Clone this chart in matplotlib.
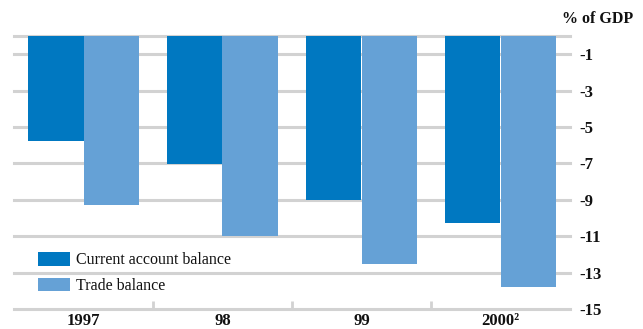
import matplotlib
matplotlib.use("Agg")
import matplotlib.pyplot as plt
import numpy as np

# Data: balances in % of GDP
years = ["1997", "98", "99", "2000²"]
current_account = [-5.75, -7.05, -9.0, -10.25]
trade_balance = [-9.3, -11.0, -12.5, -13.8]
y_ticks = [-1, -3, -5, -7, -9, -11, -13, -15]
grid_levels = [0] + y_ticks

ca_color = "#0078C1"
tb_color = "#65A1D6"
grid_color = "#D2D2D2"
text_color = "#111111"

plt.rcParams["font.family"] = ["Liberation Serif", "DejaVu Serif"]

fig = plt.figure(figsize=(6.43, 3.29), dpi=100)
ax = fig.add_axes([14 / 643, 1 - 309 / 329, 556 / 643, (309 - 36) / 329])

x = np.arange(len(years))
w = 0.4
ax.bar(x - w / 2, current_account, width=w, color=ca_color, zorder=3,
       label="Current account balance")
ax.bar(x + w / 2, trade_balance, width=w, color=tb_color, zorder=3,
       label="Trade balance")

for lvl in grid_levels:
    ax.axhline(lvl, color=grid_color, lw=2.2, zorder=1, clip_on=False)

# short separators between year groups on the baseline
for b in x[:-1] + 0.5:
    ax.plot([b, b], [-15, -14.55], color=grid_color, lw=2.0, zorder=1,
            solid_capstyle="butt", clip_on=False)

ax.set_xlim(-0.5, len(years) - 0.5)
ax.set_ylim(-15, 0)

for s in ax.spines.values():
    s.set_visible(False)

ax.yaxis.tick_right()
ax.set_yticks(y_ticks)
ax.set_yticklabels([str(v) for v in y_ticks], fontsize=12,
                   fontweight="bold", color=text_color)
ax.tick_params(axis="y", length=0, pad=7.0)

ax.set_xticks(x)
ax.set_xticklabels(years, fontsize=12, fontweight="bold", color=text_color)
ax.tick_params(axis="x", length=0, pad=3)

fig.text(598 / 643, 1 - 19 / 329, "% of GDP", ha="center", va="center",
         fontsize=11.5, fontweight="bold", color=text_color)

ax.legend(loc="upper left",
          bbox_to_anchor=((38 - 14) / 556, (309 - 252) / 273),
          frameon=False, fontsize=11.5, handlelength=2.0, handleheight=0.95,
          handletextpad=0.4, labelspacing=0.58, borderaxespad=0,
          borderpad=0, labelcolor=text_color)

fig.savefig("out.png", dpi=100)
